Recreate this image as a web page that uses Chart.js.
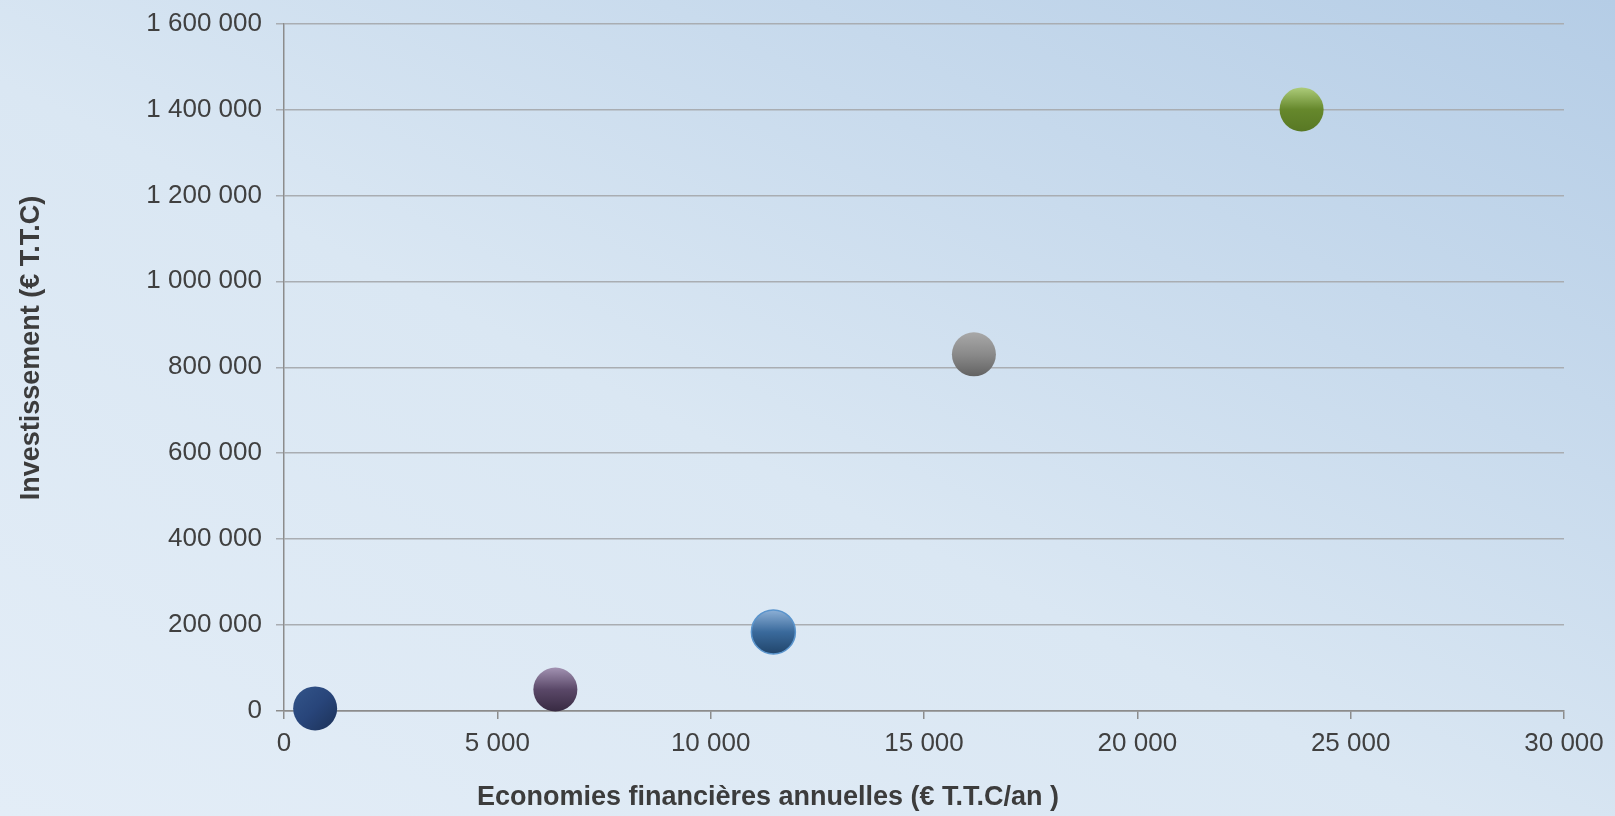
<!DOCTYPE html>
<html>
<head>
<meta charset="utf-8">
<script src="https://cdn.jsdelivr.net/npm/chart.js@4.4.1/dist/chart.umd.min.js"></script>
<style>
  html, body { margin: 0; padding: 0; }
  body {
    width: 1615px; height: 816px; overflow: hidden;
    background: linear-gradient(to top right, #e3edf7 0%, #dae7f3 45%, #b5cde6 100%);
  }
  canvas { display: block; }
</style>
</head>
<body>
<canvas id="chart" width="1615" height="816"></canvas>
<script>
// valeurs
const savings = [730, 6360, 11470, 16170, 23850];          // € T.T.C/an
const investment = [6000, 50000, 184000, 830000, 1400000]; // € T.T.C
const xTicks = [0, 5000, 10000, 15000, 20000, 25000, 30000];
const yTicks = [0, 200000, 400000, 600000, 800000, 1000000, 1200000, 1400000, 1600000];
const xTitle = 'Economies financières annuelles (€ T.T.C/an )';
const yTitle = 'Investissement (€ T.T.C)';

// couleurs des bulles (haut, milieu, bas)
const bubbleColors = [
    ['#33558a', '#28457a', '#1c3157'],
    ['#a292b2', '#5a4868', '#382a42'],
    ['#8db0d6', '#3a6a9c', '#21456b'],
    ['#a8a8a8', '#8a8a8a', '#626262'],
    ['#adcc7a', '#66882c', '#587824']
];
const bubbleBorders = ['rgba(0,0,0,0)', 'rgba(0,0,0,0)', '#5a94cc', 'rgba(0,0,0,0)', 'rgba(0,0,0,0)'];

const fmt = v => v.toLocaleString('fr-FR').replace(/[\u202f\u00a0]/g, ' ');

function bubbleFill(context) {
    const i = context.dataIndex;
    const chart = context.chart;
    const c = bubbleColors[i] || bubbleColors[0];
    if (!chart.chartArea || context.type !== 'data') return c[1];
    const px = chart.scales.x.getPixelForValue(savings[i]);
    const py = chart.scales.y.getPixelForValue(investment[i]);
    const r = 22;
    let g;
    if (i === 0) {
        g = chart.ctx.createLinearGradient(px - r, py - r, px + r, py + r);
    } else {
        g = chart.ctx.createLinearGradient(px, py - r, px, py + r);
    }
    g.addColorStop(0, c[0]);
    g.addColorStop(0.5, c[1]);
    g.addColorStop(1, c[2]);
    return g;
}

// titres d'axes placés comme sur l'original
const axisTitles = {
    id: 'axisTitles',
    afterDraw(chart) {
        const ctx = chart.ctx;
        ctx.save();
        ctx.fillStyle = '#3c3c3c';
        ctx.font = 'bold 27px "Liberation Sans", Arial, sans-serif';
        ctx.textAlign = 'center';
        ctx.textBaseline = 'middle';
        ctx.fillText(xTitle, 768, 798);
        ctx.translate(32, 348);
        ctx.rotate(-Math.PI / 2);
        ctx.fillText(yTitle, 0, 0);
        ctx.restore();
    }
};

const chart = new Chart(document.getElementById('chart').getContext('2d'), {
    type: 'scatter',
    data: {
        datasets: [{
            data: savings.map((s, i) => ({ x: s, y: investment[i] })),
            backgroundColor: bubbleFill,
            borderColor: bubbleBorders,
            borderWidth: 1.5,
            pointRadius: 22,
            pointHoverRadius: 22,
            clip: false
        }]
    },
    options: {
        responsive: false,
        animation: false,
        events: [],
        layout: { padding: { top: 19, right: 51, left: 0, bottom: 0 } },
        plugins: {
            legend: { display: false },
            tooltip: { enabled: false }
        },
        scales: {
            x: {
                type: 'linear',
                min: 0,
                max: 30000,
                afterBuildTicks: s => { s.ticks = xTicks.map(v => ({ value: v })); },
                afterFit: s => { s.height = 105; s.paddingLeft = 0; s.paddingRight = 0; },
                grid: {
                    drawOnChartArea: false,
                    drawTicks: true,
                    tickLength: 8,
                    color: '#8c8c8c',
                    lineWidth: 1.5
                },
                border: { color: '#8c8c8c', width: 1.5 },
                ticks: {
                    padding: 9,
                    maxRotation: 0,
                    color: '#404040',
                    font: { family: '"Liberation Sans", Arial, sans-serif', size: 26 },
                    callback: v => fmt(v)
                }
            },
            y: {
                type: 'linear',
                min: 0,
                max: 1600000,
                afterBuildTicks: s => { s.ticks = yTicks.map(v => ({ value: v })); },
                afterFit: s => { s.width = 284; s.paddingTop = 0; s.paddingBottom = 0; },
                grid: {
                    drawTicks: true,
                    tickLength: 8,
                    color: ctx => ctx.tick && ctx.tick.value === 0 ? '#8c8c8c' : '#a9adb2',
                    lineWidth: 1.5
                },
                border: { color: '#8c8c8c', width: 1.5 },
                ticks: {
                    padding: 14,
                    color: '#404040',
                    font: { family: '"Liberation Sans", Arial, sans-serif', size: 26 },
                    callback: v => fmt(v)
                }
            }
        }
    },
    plugins: [axisTitles]
});
</script>
</body>
</html>
